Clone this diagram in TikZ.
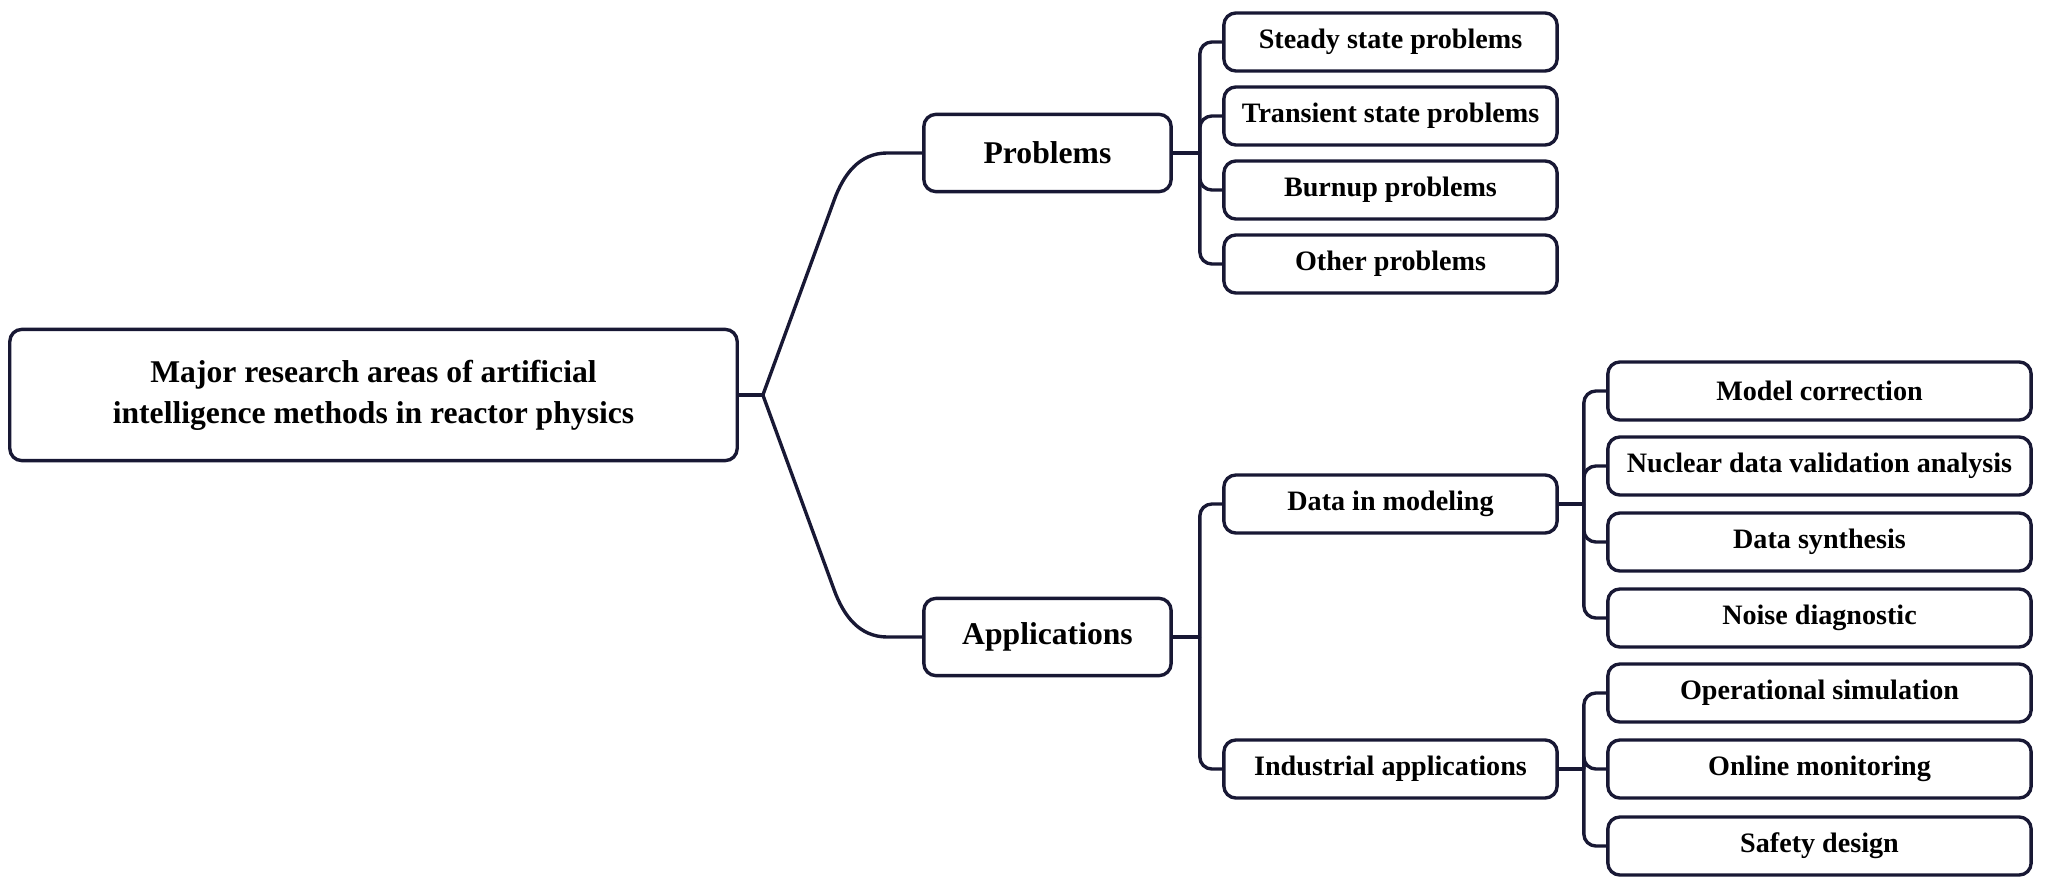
\documentclass[tikz,border=0pt]{standalone}
\usepackage{fontspec}
\setmainfont{Liberation Serif}
\usetikzlibrary{calc}
\definecolor{linec}{RGB}{24,24,52}
\tikzset{
  box/.style={draw=linec, line width=2.4pt, rounded corners=0.3cm, align=center, inner sep=0pt},
  rootbox/.style={box, minimum width=18.18cm, minimum height=3.28cm, font=\bfseries\fontsize{22.5}{29}\selectfont},
  midbox/.style={box, minimum width=6.18cm, minimum height=1.93cm, font=\bfseries\fontsize{22.5}{26}\selectfont},
  leafbox/.style={box, minimum width=8.33cm, minimum height=1.45cm, font=\bfseries\fontsize{20}{24}\selectfont},
  wideleaf/.style={leafbox, minimum width=10.58cm},
  link/.style={draw=linec, line width=2.4pt, rounded corners=0.3cm},
}

\begin{document}
\begin{tikzpicture}[x=0.025cm, y=-0.025cm]
  \useasboundingbox (0,0) rectangle (2046,886);
  % root and first level
  \node[rootbox] (root) at (373.5,395) {Major research areas of artificial\\intelligence methods in reactor physics};
  \node[midbox] (prob) at (1047.5,153) {Problems};
  \node[midbox] (appl) at (1047.5,637) {Applications};
  % problems branch
  \node[leafbox] (steady) at (1390.5,42) {Steady state problems};
  \node[leafbox] (trans) at (1390.5,116) {Transient state problems};
  \node[leafbox] (burn) at (1390.5,190) {Burnup problems};
  \node[leafbox] (other) at (1390.5,264) {Other problems};
  % applications branch
  \node[leafbox] (datamod) at (1390.5,504) {Data in modeling};
  \node[leafbox] (indus) at (1390.5,769) {Industrial applications};
  \node[wideleaf] (modcor) at (1819.5,391) {Model correction};
  \node[wideleaf] (nucdat) at (1819.5,466) {Nuclear data validation analysis};
  \node[wideleaf] (synth) at (1819.5,542) {Data synthesis};
  \node[wideleaf] (noise) at (1819.5,618) {Noise diagnostic};
  \node[wideleaf] (opsim) at (1819.5,693) {Operational simulation};
  \node[wideleaf] (online) at (1819.5,769) {Online monitoring};
  \node[wideleaf] (safety) at (1819.5,846) {Safety design};

  % root to first level
  \coordinate (j) at ($(root.east)+(24,0)$);
  \draw[link] (root.east) -- (j);
  \draw[draw=linec, line width=2.4pt] (j) -- ($(prob.west)+(-88,47)$)
    to[out=70,in=180] ($(prob.west)+(-35,0)$) -- (prob.west);
  \draw[draw=linec, line width=2.4pt] (j) -- ($(appl.west)+(-88,-47)$)
    to[out=-70,in=180] ($(appl.west)+(-35,0)$) -- (appl.west);
  % problems to leaves
  \coordinate (tp) at ($(prob.east)+(27,0)$);
  \draw[link] (prob.east) -- (tp);
  \draw[link] (tp) |- (steady.west);
  \draw[link] (tp) |- (trans.west);
  \draw[link] (tp) |- (burn.west);
  \draw[link] (tp) |- (other.west);
  % applications to second level
  \coordinate (ta) at ($(appl.east)+(27,0)$);
  \draw[link] (appl.east) -- (ta);
  \draw[link] (ta) |- (datamod.west);
  \draw[link] (ta) |- (indus.west);
  % data in modeling to leaves
  \coordinate (td) at ($(datamod.east)+(25,0)$);
  \draw[link] (datamod.east) -- (td);
  \draw[link] (td) |- (modcor.west);
  \draw[link] (td) |- (nucdat.west);
  \draw[link] (td) |- (synth.west);
  \draw[link] (td) |- (noise.west);
  % industrial applications to leaves
  \coordinate (ti) at ($(indus.east)+(25,0)$);
  \draw[link] (indus.east) -- (ti);
  \draw[link] (ti) |- (opsim.west);
  \draw[link] (ti) |- (online.west);
  \draw[link] (ti) |- (safety.west);
\end{tikzpicture}
\end{document}
